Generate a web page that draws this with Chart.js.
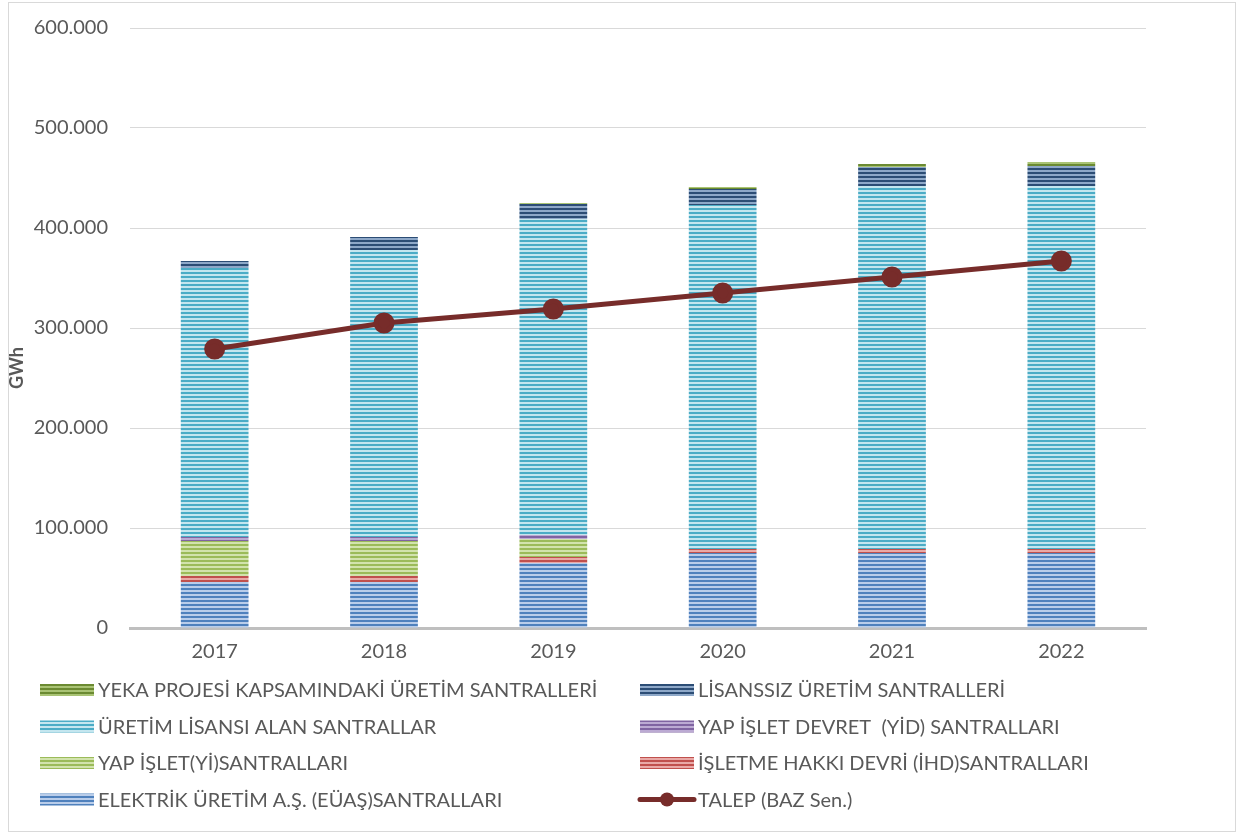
<!DOCTYPE html>
<html>
<head>
<meta charset="utf-8">
<script src="https://cdn.jsdelivr.net/npm/chart.js@4/dist/chart.umd.min.js"></script>
<style>
  html, body { margin: 0; padding: 0; background: #fff; }
  .frame {
    position: absolute; left: 8px; top: 2px; width: 1228px; height: 830px;
    border: 1px solid #d9d9d9; box-sizing: border-box;
  }
  #wrap { position: absolute; left: 0; top: 0; width: 1241px; height: 836px; }
</style>
</head>
<body>
<div class="frame"></div>
<div id="wrap"><canvas id="chart"></canvas></div>
<script>
// values in GWh
const years = ['2017', '2018', '2019', '2020', '2021', '2022'];
const euas      = [46000, 46000, 65000, 75000, 75000, 75000];
const ihd       = [6000, 6000, 6000, 4000, 4000, 4000];
const yi        = [35000, 35000, 18000, 0, 0, 0];
const yid       = [4000, 4000, 4000, 0, 0, 0];
const uretimLis = [269000, 287000, 316000, 344000, 363000, 363000];
const lisanssiz = [7000, 13000, 15000, 16000, 19000, 20000];
const yeka      = [0, 0, 1000, 2000, 3000, 4000];
const talep     = [279000, 305000, 319000, 335000, 351000, 367000];
const yTicks    = [0, 100000, 200000, 300000, 400000, 500000, 600000];

const FONT = 'Lato, "Open Sans", sans-serif';
const GREY = '#595959';

function stripes(dark, light) {
  const c = document.createElement('canvas');
  c.width = 8; c.height = 4;
  const g = c.getContext('2d');
  g.fillStyle = light; g.fillRect(0, 0, 8, 4);
  g.fillStyle = dark; g.fillRect(0, 0, 8, 2);
  return g.createPattern(c, 'repeat');
}

const barDefs = [
  ['ELEKTRİK ÜRETİM A.Ş. (EÜAŞ)SANTRALLARI', euas, '#4f81bd', '#b9cdea'],
  ['İŞLETME HAKKI DEVRİ (İHD)SANTRALLARI', ihd, '#c0504d', '#e9a9a7'],
  ['YAP İŞLET(Yİ)SANTRALLARI', yi, '#9bbb59', '#d2e3ad'],
  ['YAP İŞLET DEVRET  (YİD) SANTRALLARI', yid, '#8064a2', '#bcaad3'],
  ['ÜRETİM LİSANSI ALAN SANTRALLAR', uretimLis, '#4bacc6', '#c4e6ef'],
  ['LİSANSSIZ ÜRETİM SANTRALLERİ', lisanssiz, '#2c4d75', '#8ea8c8'],
  ['YEKA PROJESİ KAPSAMINDAKİ ÜRETİM SANTRALLERİ', yeka, '#6b8a32', '#a9c374']
];

const datasets = barDefs.map(([label, data, dark, light]) => ({
  type: 'bar',
  label: label,
  data: data,
  backgroundColor: stripes(dark, light),
  swatch: [dark, light],
  stack: 'gen',
  order: 1,
  barPercentage: 0.4,
  categoryPercentage: 1
}));
datasets.push({
  type: 'line',
  label: 'TALEP (BAZ Sen.)',
  data: talep,
  borderColor: '#772c2a',
  backgroundColor: '#772c2a',
  borderWidth: 5,
  pointRadius: 8,
  pointHoverRadius: 8,
  stack: 'talep',
  order: 0
});

// legend order as in the picture (two columns)
const legendOrder = [6, 5, 4, 3, 2, 1, 0, 7];

const legendPlugin = {
  id: 'customLegend',
  afterDraw(chart) {
    const ctx = chart.ctx;
    ctx.save();
    ctx.font = '20px ' + FONT;
    ctx.fillStyle = GREY;
    ctx.textBaseline = 'middle';
    legendOrder.forEach((di, i) => {
      const ds = chart.data.datasets[di];
      const x = i % 2 === 0 ? 40 : 640;
      const y = 690 + Math.floor(i / 2) * 36.5;
      if (ds.type === 'line') {
        ctx.strokeStyle = ds.borderColor;
        ctx.lineWidth = 5;
        ctx.lineCap = 'round';
        ctx.beginPath(); ctx.moveTo(x, y); ctx.lineTo(x + 54, y); ctx.stroke();
        ctx.fillStyle = ds.borderColor;
        ctx.beginPath(); ctx.arc(x + 27, y, 7, 0, Math.PI * 2); ctx.fill();
      } else {
        ctx.fillStyle = stripes(ds.swatch[0], ds.swatch[1]);
        ctx.fillRect(x, y - 6, 54, 12);
      }
      ctx.fillStyle = GREY;
      ctx.fillText(ds.label, x + 58, y + 1);
    });
    // axis title
    ctx.translate(17, 368);
    ctx.rotate(-Math.PI / 2);
    ctx.font = 'bold 18px ' + FONT;
    ctx.textAlign = 'center';
    ctx.fillText('GWh', 0, 0);
    ctx.restore();
  }
};

new Chart(document.getElementById('chart'), {
  data: { labels: years, datasets: datasets },
  plugins: [legendPlugin],
  options: {
    responsive: true,
    maintainAspectRatio: false,
    animation: false,
    layout: { padding: { top: 28, right: 95, left: 0, bottom: 0 } },
    plugins: { legend: { display: false }, tooltip: { enabled: false } },
    scales: {
      x: {
        stacked: true,
        grid: { display: false, drawTicks: false },
        border: { color: '#bfbfbf', width: 3 },
        ticks: { color: GREY, font: { family: FONT, size: 20 }, padding: 12 },
        afterFit(scale) { scale.height = 836 - 628; }
      },
      y: {
        stacked: true,
        min: 0,
        max: 600000,
        afterBuildTicks(scale) { scale.ticks = yTicks.map(v => ({ value: v })); },
        grid: { color: '#d9d9d9', lineWidth: 1, drawTicks: false },
        border: { display: false },
        ticks: {
          color: GREY,
          font: { family: FONT, size: 20 },
          padding: 22,
          callback: v => v.toString().replace(/\B(?=(\d{3})+(?!\d))/g, '.')
        },
        afterFit(scale) {
          scale.width = 130;
          scale.paddingTop = 0;
          scale.paddingBottom = 0;
        }
      }
    }
  }
});
</script>
</body>
</html>
